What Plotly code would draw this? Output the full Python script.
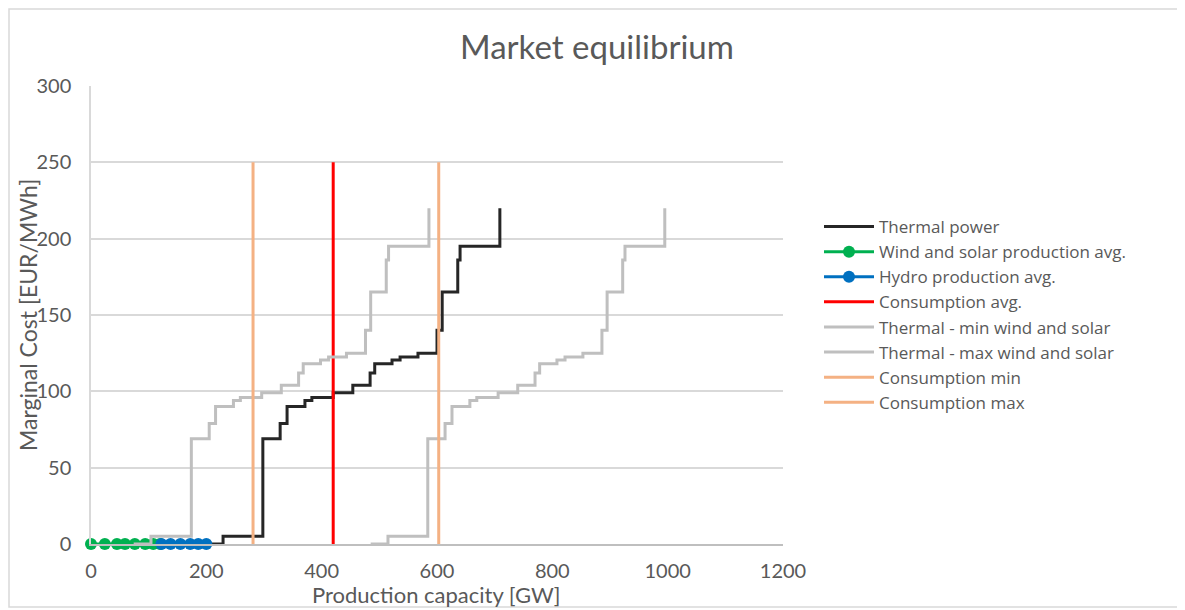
import plotly.graph_objects as go

# ---- data ----
thermal_x = [200, 229, 298, 328, 340, 371, 383, 420, 454, 484, 492, 522, 536, 567, 600, 609, 636, 640, 709, 709]
thermal_y = [0, 5, 69, 79, 90, 94, 96, 99, 104, 112, 118, 120.5, 122.5, 125, 140, 165, 186, 195, 201, 220]

thermal_min_x = [74, 104, 174, 205, 216, 247, 259, 296, 330, 360, 368, 398, 412, 443, 476, 485, 512, 516, 586, 586]
thermal_min_y = [0, 5, 69, 79, 90, 94, 96, 99, 104, 112, 118, 120.5, 122.5, 125, 140, 165, 186, 195, 201, 220]

thermal_max_x = [485, 515, 584, 614, 626, 657, 669, 706, 740, 770, 778, 808, 822, 853, 886, 895, 922, 926, 995, 995]
thermal_max_y = [0, 5, 69, 79, 90, 94, 96, 99, 104, 112, 118, 120.5, 122.5, 125, 140, 165, 186, 195, 201, 220]

wind_solar_x = [0, 24, 45, 59, 76, 94, 108, 120]
wind_solar_y = [0, 0, 0, 0, 0, 0, 0, 0]

hydro_x = [122, 138, 155, 172, 186, 200]
hydro_y = [0, 0, 0, 0, 0, 0]

cons_avg_x = [420, 420]
cons_min_x = [281, 281]
cons_max_x = [603, 603]
cons_y = [0, 250]

x_ticks = [0, 200, 400, 600, 800, 1000, 1200]
y_ticks = [0, 50, 100, 150, 200, 250, 300]

FONT = "Lato"
TXT = "#595959"

fig = go.Figure()
fig.add_trace(go.Scatter(x=thermal_x, y=thermal_y, mode="lines", line_shape="hv",
                         name="Thermal power", line=dict(color="#262626", width=3)))
fig.add_trace(go.Scatter(x=wind_solar_x, y=wind_solar_y, mode="lines+markers",
                         name="Wind and solar production avg.", cliponaxis=False,
                         line=dict(color="#00b050", width=3),
                         marker=dict(color="#00b050", size=12)))
fig.add_trace(go.Scatter(x=hydro_x, y=hydro_y, mode="lines+markers",
                         name="Hydro production avg.", cliponaxis=False,
                         line=dict(color="#0070c0", width=3),
                         marker=dict(color="#0070c0", size=12)))
fig.add_trace(go.Scatter(x=cons_avg_x, y=cons_y, mode="lines", name="Consumption avg.",
                         line=dict(color="#ff0000", width=3)))
fig.add_trace(go.Scatter(x=thermal_min_x, y=thermal_min_y, mode="lines", line_shape="hv",
                         name="Thermal - min wind and solar", line=dict(color="#bfbfbf", width=3)))
fig.add_trace(go.Scatter(x=thermal_max_x, y=thermal_max_y, mode="lines", line_shape="hv",
                         name="Thermal - max wind and solar", line=dict(color="#bfbfbf", width=3)))
fig.add_trace(go.Scatter(x=cons_min_x, y=cons_y, mode="lines", name="Consumption min",
                         line=dict(color="#f4b183", width=3)))
fig.add_trace(go.Scatter(x=cons_max_x, y=cons_y, mode="lines", name="Consumption max",
                         line=dict(color="#f4b183", width=3)))

# page body has an 8px margin: figure coordinates = screen coordinates - 8
OFF = 8
L, R, T, B = 91 - OFF, 783 - OFF, 86 - OFF, 544 - OFF
W, H = 1185 - OFF, 610 - OFF
pw, ph = R - L, B - T

def px_x(p):
    return (p - OFF - L) / pw

def px_y(p):
    return (B - (p - OFF)) / ph

fig.update_layout(
    width=W, height=H,
    margin=dict(l=L, r=W - R, t=T, b=H - B),
    paper_bgcolor="white", plot_bgcolor="white",
    font=dict(family=FONT, color=TXT, size=20),
    title=dict(text="Market equilibrium", x=px_x(597), xref="paper", xanchor="center",
               y=1 - (47 - OFF) / H, yanchor="middle", font=dict(size=33, color=TXT, family=FONT)),
    xaxis=dict(range=[0, 1200], tickvals=x_ticks, showgrid=False, zeroline=False,
               showline=True, linecolor="#bfbfbf", linewidth=1.5,
               ticks="outside", ticklen=8, tickcolor="rgba(0,0,0,0)",
               tickfont=dict(size=20, color=TXT, family=FONT)),
    yaxis=dict(range=[0, 300], tickvals=y_ticks, showgrid=True, gridcolor="#d9d9d9", gridwidth=1.5,
               zeroline=False, showline=True, linecolor="#d9d9d9", linewidth=1.5,
               ticks="outside", ticklen=14, tickcolor="rgba(0,0,0,0)",
               tickfont=dict(size=20, color=TXT, family=FONT)),
    legend=dict(x=px_x(819), y=px_y(209), xanchor="left", yanchor="top",
                font=dict(size=17, color=TXT, family="Open Sans"), itemwidth=50,
                tracegroupgap=0, bgcolor="rgba(0,0,0,0)"),
    showlegend=True,
)

fig.add_annotation(text="Production capacity [GW]", xref="paper", yref="paper",
                   x=px_x(436), y=px_y(594), showarrow=False,
                   font=dict(size=22, color=TXT, family=FONT), xanchor="center", yanchor="middle")
fig.add_annotation(text="Marginal Cost [EUR/MWh]", xref="paper", yref="paper",
                   x=px_x(28), y=px_y(315), showarrow=False, textangle=-90,
                   font=dict(size=23, color=TXT, family=FONT), xanchor="center", yanchor="middle")

fig.add_shape(type="rect", xref="paper", yref="paper",
              x0=px_x(9), x1=px_x(1183), y0=px_y(607), y1=px_y(9),
              line=dict(color="#d9d9d9", width=1.5), fillcolor="rgba(0,0,0,0)", layer="below")

fig.write_html("out.html")
